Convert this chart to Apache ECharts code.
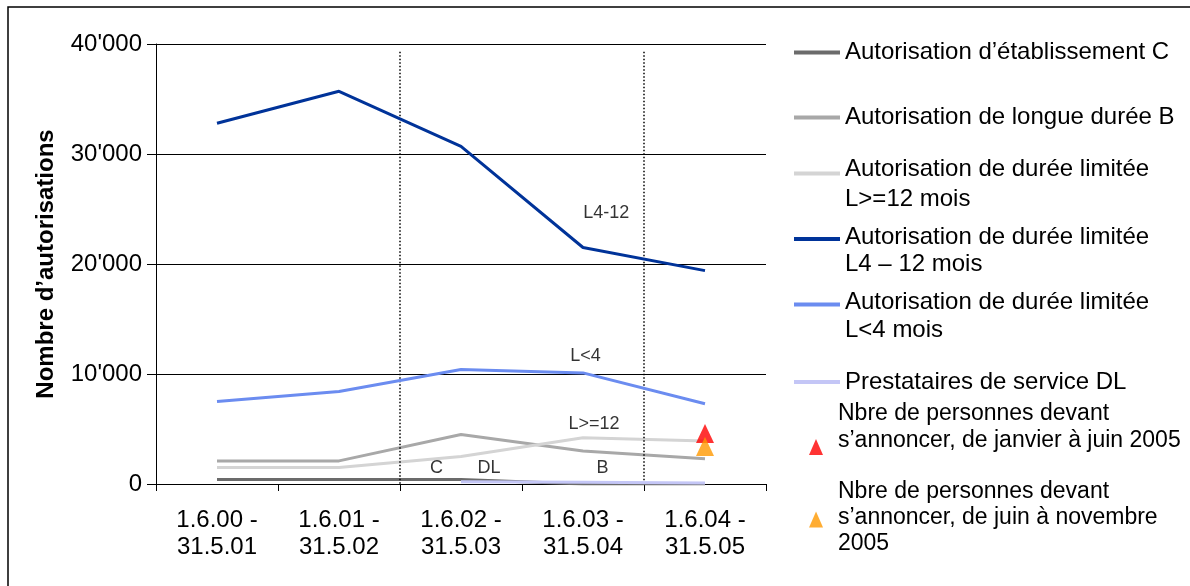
<!DOCTYPE html>
<html>
<head>
<meta charset="utf-8">
<script src="https://cdn.jsdelivr.net/npm/echarts@6/dist/echarts.min.js"></script>
<style>
  html, body { margin: 0; padding: 0; background: #fff; }
  #chart { width: 1190px; height: 586px; }
</style>
</head>
<body>
<div id="chart"></div>
<script>
// Periods (1 June to 31 May)
const periods = ['1.6.00 - 31.5.01', '1.6.01 - 31.5.02', '1.6.02 - 31.5.03', '1.6.03 - 31.5.04', '1.6.04 - 31.5.05'];

// Number of permits per category and period
const permitC     = [400, 400, 400, 0, 0];
const permitB     = [2100, 2100, 4500, 3000, 2300];
const permitL12   = [1500, 1500, 2500, 4200, 3900];
const permitL4_12 = [32800, 35700, 30700, 21500, 19400];
const permitL4    = [7500, 8400, 10400, 10100, 7300];
const providersDL = [null, null, 200, 150, 100];

// Persons required to register in 2005
const announcedJanJun = [null, null, null, null, 4600];
const announcedJunNov = [null, null, null, null, 3400];

// Y axis ticks
const yTicks = [0, 10000, 20000, 30000, 40000];

// Inline curve labels: [position along periods (0..5), value, text]
const curveLabels = [
  [3.69, 24600, 'L4-12'],
  [3.52, 11600, 'L<4'],
  [3.59, 5450, 'L>=12'],
  [2.30, 1450, 'C'],
  [2.73, 1450, 'DL'],
  [3.66, 1450, 'B']
];

// Period boundaries marked with dotted lines
const boundaries = [2, 4];

const FONT = "'Liberation Sans', Arial, sans-serif";

const names = {
  C: 'Autorisation d’établissement C',
  B: 'Autorisation de longue durée B',
  L12: 'Autorisation de durée limitée L>=12 mois',
  L4_12: 'Autorisation de durée limitée L4 – 12 mois',
  L4: 'Autorisation de durée limitée L<4 mois',
  DL: 'Prestataires de service DL',
  JJ: 'Nbre de personnes devant s’annoncer, de janvier à juin 2005',
  JN: 'Nbre de personnes devant s’annoncer, de juin à novembre 2005'
};

// Legend label lines for each series
const legendLines = {};
legendLines[names.C] = ['Autorisation d’établissement C'];
legendLines[names.B] = ['Autorisation de longue durée B'];
legendLines[names.L12] = ['Autorisation de durée limitée', 'L>=12 mois'];
legendLines[names.L4_12] = ['Autorisation de durée limitée', 'L4 – 12 mois'];
legendLines[names.L4] = ['Autorisation de durée limitée', 'L<4 mois'];
legendLines[names.DL] = ['Prestataires de service DL'];
legendLines[names.JJ] = ['Nbre de personnes devant', 's’annoncer, de janvier à juin 2005'];
legendLines[names.JN] = ['Nbre de personnes devant', 's’annoncer, de juin à novembre', '2005'];

function lineSeries(name, data, color, z) {
  return {
    name: name,
    type: 'line',
    data: data,
    showSymbol: false,
    symbol: 'none',
    connectNulls: false,
    z: z,
    itemStyle: { color: color },
    lineStyle: { color: color, width: 3 },
    emphasis: { disabled: true },
    silent: true
  };
}

function triangleSeries(name, data, color, z) {
  return {
    name: name,
    type: 'scatter',
    data: data,
    symbol: 'triangle',
    symbolSize: [18, 19],
    z: z,
    itemStyle: { color: color },
    emphasis: { disabled: true },
    silent: true
  };
}

// One legend block per entry so each sits at its own height.
// spaceAbove / spaceBelow are empty rich lines that shift the text
// block relative to the icon, which stays centred on the block.
function legendBlock(name, top, lineHeight, spaceAbove, spaceBelow, tri, fontSize) {
  return {
    data: [name],
    orient: 'vertical',
    left: tri ? 809 : 794,
    top: top,
    padding: 0,
    icon: tri ? 'triangle' : 'rect',
    itemWidth: tri ? 14 : 46,
    itemHeight: tri ? 16 : 4,
    selectedMode: false,
    formatter: function (n) {
      const rows = legendLines[n].map(function (s) { return '{t|' + s + '}'; });
      if (spaceAbove) rows.unshift('{a| }');
      if (spaceBelow) rows.push('{b| }');
      return rows.join('\n');
    },
    textStyle: {
      color: '#000',
      rich: {
        t: {
          fontFamily: FONT, fontSize: fontSize || 24, color: '#000',
          lineHeight: lineHeight, padding: [0, 0, 0, tri ? 10 : 0]
        },
        a: { fontSize: 1, lineHeight: spaceAbove || 1 },
        b: { fontSize: 1, lineHeight: spaceBelow || 1 }
      }
    }
  };
}

const chart = echarts.init(document.getElementById('chart'), null, { renderer: 'canvas' });

chart.setOption({
  backgroundColor: '#fff',
  animation: false,
  grid: { left: 156, right: 424, top: 44, bottom: 102, containLabel: false },
  xAxis: [
    {
      type: 'category',
      data: periods,
      boundaryGap: true,
      axisLine: { lineStyle: { color: '#000', width: 1 } },
      axisTick: { show: true, length: 7, lineStyle: { color: '#000' } },
      axisLabel: {
        fontFamily: FONT, fontSize: 24, color: '#000', lineHeight: 27, margin: 23,
        formatter: function (v) { return v.replace(' - ', ' -\n'); }
      },
      splitLine: { show: false }
    },
    {
      type: 'value', min: 0, max: 5, show: false
    }
  ],
  yAxis: {
    type: 'value',
    min: 0,
    max: yTicks[yTicks.length - 1],
    interval: yTicks[1] - yTicks[0],
    name: 'Nombre d’autorisations',
    nameLocation: 'middle',
    nameGap: 98,
    nameTextStyle: { fontFamily: FONT, fontSize: 24, fontWeight: 'bold', color: '#000' },
    axisLine: { show: true, lineStyle: { color: '#000', width: 1 } },
    axisTick: { show: true, length: 9, lineStyle: { color: '#000' } },
    axisLabel: {
      fontFamily: FONT, fontSize: 24, color: '#000', margin: 14,
      formatter: function (v) { return v === 0 ? '0' : (v / 1000) + '\'000'; }
    },
    splitLine: { show: true, lineStyle: { color: '#000', width: 1 } }
  },
  legend: [
    legendBlock(names.C, 40.5, 28, 0, 0, false),
    legendBlock(names.B, 105.5, 28, 0, 0, false),
    legendBlock(names.L12, 143, 30, 22, 0, false),
    legendBlock(names.L4_12, 211.5, 27, 23, 0, false),
    legendBlock(names.L4, 276, 28, 24, 0, false),
    legendBlock(names.DL, 370, 28, 0, 0, false),
    legendBlock(names.JJ, 402.5, 27, 0, 39, true, 23),
    legendBlock(names.JN, 480, 26, 0, 4, true, 23)
  ],
  graphic: [
    {
      type: 'rect',
      shape: { x: 8, y: 7, width: 1200, height: 600 },
      style: { fill: 'none', stroke: '#000', lineWidth: 1.5 },
      silent: true
    }
  ],
  series: [
    lineSeries(names.C, permitC, '#6b6b6b', 2),
    lineSeries(names.B, permitB, '#a8a8a8', 3),
    lineSeries(names.L12, permitL12, '#d4d4d4', 4),
    lineSeries(names.L4_12, permitL4_12, '#003399', 5),
    lineSeries(names.L4, permitL4, '#6b8cf0', 6),
    lineSeries(names.DL, providersDL, '#c4c6f6', 7),
    triangleSeries(names.JJ, announcedJanJun, '#ff0000', 8),
    triangleSeries(names.JN, announcedJunNov, '#ff9900', 9),
    {
      name: 'labels',
      type: 'scatter',
      xAxisIndex: 1,
      yAxisIndex: 0,
      symbolSize: 0,
      silent: true,
      z: 10,
      data: curveLabels.map(function (d) { return { value: [d[0], d[1]], name: d[2] }; }),
      label: {
        show: true,
        position: 'inside',
        formatter: function (p) { return p.name; },
        fontFamily: FONT, fontSize: 18, color: '#000'
      },
      markLine: {
        silent: true,
        symbol: 'none',
        label: { show: false },
        lineStyle: { color: '#000', width: 1.5, type: [1.5, 2] },
        data: boundaries.map(function (b) {
          return [{ coord: [b, 39300] }, { coord: [b, 0] }];
        })
      }
    }
  ]
});
</script>
</body>
</html>
